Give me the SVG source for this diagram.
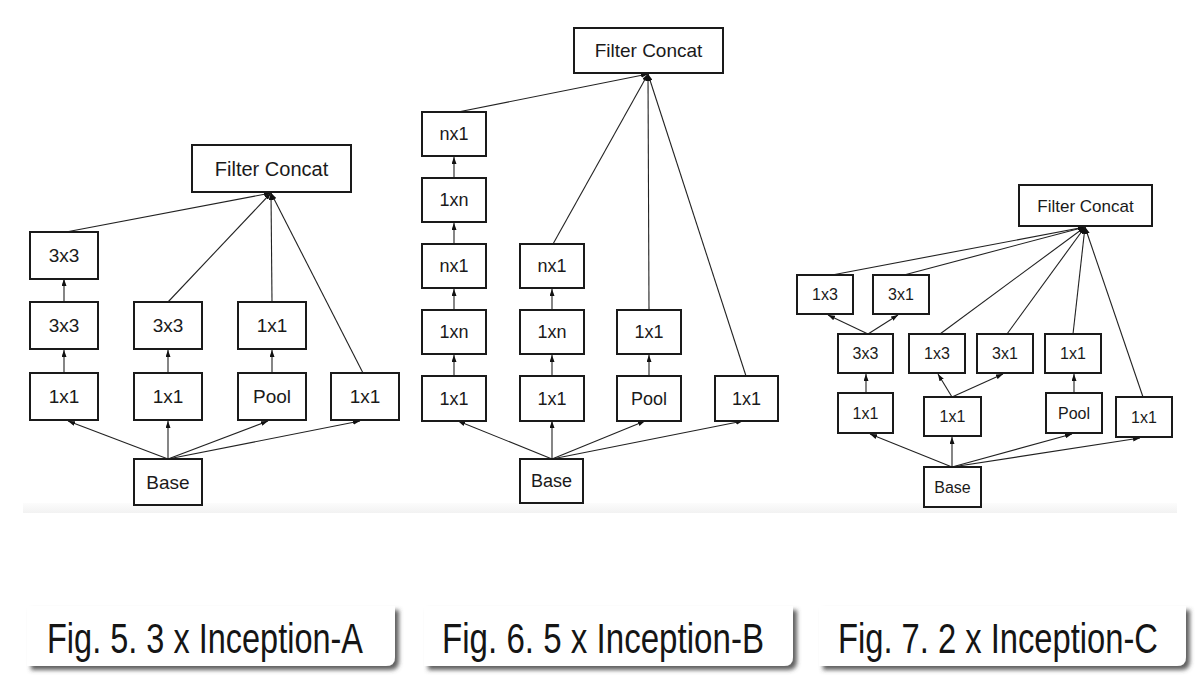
<svg xmlns="http://www.w3.org/2000/svg" width="1196" height="675" viewBox="0 0 1196 675">
<style>
.n rect{fill:#fff;stroke:#1a1a1a;stroke-width:2}
.n text{font-family:"Liberation Sans",Arial,sans-serif;fill:#1a1a1a;text-anchor:middle}
.a text{font-size:19px}
.b text{font-size:18px}
.c text{font-size:16px}
.fa text{font-size:20px}
.fb text{font-size:19px}
.fc text{font-size:17px}
#connectors line{stroke:#222;stroke-width:1.1;fill:none;marker-end:url(#ah)}
.cap text{font-family:"Liberation Sans",Arial,sans-serif;font-size:32px;fill:#151515}
.cap path{fill:#fff;filter:url(#sh)}
</style>
<defs>
<marker id="ah" markerUnits="userSpaceOnUse" markerWidth="7" markerHeight="5" refX="7" refY="2.5" orient="auto">
<path d="M0,0 L7,2.5 L0,5 z" fill="#111"/>
</marker>
<filter id="sh" x="-5%" y="-20%" width="115%" height="150%">
<feDropShadow dx="4" dy="4" stdDeviation="2" flood-color="#444" flood-opacity="0.85"/>
</filter>
<linearGradient id="band" x1="0" y1="0" x2="0" y2="1">
<stop offset="0" stop-color="#fcfcfc"/>
<stop offset="1" stop-color="#f2f2f2"/>
</linearGradient>
</defs>
<rect width="1196" height="675" fill="#fff"/>
<rect x="23" y="503" width="1154" height="10" fill="url(#band)"/>

<g id="connectors">
<!-- Fig A -->
<line x1="66" y1="232" x2="271" y2="193"/>
<line x1="168" y1="302" x2="271" y2="193"/>
<line x1="272" y1="302" x2="271" y2="193"/>
<line x1="363" y1="373" x2="271" y2="193"/>
<line x1="64" y1="302" x2="64" y2="279"/>
<line x1="64" y1="373" x2="64" y2="350"/>
<line x1="168" y1="373" x2="168" y2="350"/>
<line x1="272" y1="373" x2="272" y2="350"/>
<line x1="168" y1="459" x2="68" y2="421"/>
<line x1="168" y1="459" x2="168" y2="421"/>
<line x1="168" y1="459" x2="268" y2="421"/>
<line x1="168" y1="459" x2="360" y2="421"/>
<!-- Fig B -->
<line x1="458" y1="112" x2="648" y2="74"/>
<line x1="553" y1="244" x2="648" y2="74"/>
<line x1="649" y1="310" x2="648" y2="74"/>
<line x1="746" y1="376" x2="648" y2="74"/>
<line x1="454" y1="178" x2="454" y2="157"/>
<line x1="454" y1="244" x2="454" y2="223"/>
<line x1="454" y1="310" x2="454" y2="289"/>
<line x1="454" y1="376" x2="454" y2="355"/>
<line x1="552" y1="310" x2="552" y2="289"/>
<line x1="552" y1="376" x2="552" y2="355"/>
<line x1="649" y1="376" x2="649" y2="355"/>
<line x1="552" y1="459" x2="458" y2="421"/>
<line x1="552" y1="459" x2="552" y2="421"/>
<line x1="552" y1="459" x2="645" y2="421"/>
<line x1="552" y1="459" x2="743" y2="421"/>
<!-- Fig C -->
<line x1="832" y1="275" x2="1085" y2="227"/>
<line x1="904" y1="275" x2="1085" y2="227"/>
<line x1="940" y1="334" x2="1085" y2="227"/>
<line x1="1007" y1="334" x2="1085" y2="227"/>
<line x1="1073" y1="334" x2="1085" y2="227"/>
<line x1="1143" y1="397" x2="1085" y2="227"/>
<line x1="868" y1="334" x2="828" y2="315"/>
<line x1="868" y1="334" x2="898" y2="315"/>
<line x1="866" y1="393" x2="866" y2="374"/>
<line x1="952" y1="397" x2="938" y2="374"/>
<line x1="952" y1="397" x2="1003" y2="374"/>
<line x1="1074" y1="393" x2="1074" y2="374"/>
<line x1="952" y1="467" x2="870" y2="434"/>
<line x1="952" y1="467" x2="952" y2="437"/>
<line x1="952" y1="467" x2="1072" y2="434"/>
<line x1="952" y1="467" x2="1140" y2="438"/>
</g>

<!-- Fig A nodes -->
<g id="a_concat" class="n fa"><rect x="192" y="145" width="159" height="47"/><text x="271.5" y="175.5">Filter Concat</text></g>
<g id="a_3x3_top" class="n a"><rect x="30" y="232" width="68" height="47"/><text x="64" y="262">3x3</text></g>
<g id="a_3x3_1" class="n a"><rect x="30" y="302" width="68" height="47"/><text x="64" y="332">3x3</text></g>
<g id="a_1x1_1" class="n a"><rect x="30" y="373" width="68" height="47"/><text x="64" y="403">1x1</text></g>
<g id="a_3x3_2" class="n a"><rect x="134" y="302" width="68" height="47"/><text x="168" y="332">3x3</text></g>
<g id="a_1x1_2" class="n a"><rect x="134" y="373" width="68" height="47"/><text x="168" y="403">1x1</text></g>
<g id="a_1x1_3" class="n a"><rect x="238" y="302" width="68" height="47"/><text x="272" y="332">1x1</text></g>
<g id="a_pool" class="n a"><rect x="238" y="373" width="68" height="47"/><text x="272" y="403">Pool</text></g>
<g id="a_1x1_4" class="n a"><rect x="331" y="373" width="68" height="47"/><text x="365" y="403">1x1</text></g>
<g id="a_base" class="n a"><rect x="134" y="459" width="68" height="46"/><text x="168" y="489">Base</text></g>

<!-- Fig B nodes -->
<g id="b_concat" class="n fb"><rect x="574" y="28" width="149" height="45"/><text x="648.5" y="57">Filter Concat</text></g>
<g id="b_nx1_top" class="n b"><rect x="422" y="112" width="64" height="44"/><text x="454" y="140">nx1</text></g>
<g id="b_1xn_1" class="n b"><rect x="422" y="178" width="64" height="44"/><text x="454" y="206">1xn</text></g>
<g id="b_nx1_1" class="n b"><rect x="422" y="244" width="64" height="44"/><text x="454" y="272">nx1</text></g>
<g id="b_1xn_2" class="n b"><rect x="422" y="310" width="64" height="44"/><text x="454" y="338">1xn</text></g>
<g id="b_1x1_1" class="n b"><rect x="422" y="376" width="64" height="45"/><text x="454" y="404.5">1x1</text></g>
<g id="b_nx1_2" class="n b"><rect x="520" y="244" width="64" height="44"/><text x="552" y="272">nx1</text></g>
<g id="b_1xn_3" class="n b"><rect x="520" y="310" width="64" height="44"/><text x="552" y="338">1xn</text></g>
<g id="b_1x1_2" class="n b"><rect x="520" y="376" width="64" height="45"/><text x="552" y="404.5">1x1</text></g>
<g id="b_1x1_3" class="n b"><rect x="617" y="310" width="64" height="44"/><text x="649" y="338">1x1</text></g>
<g id="b_pool" class="n b"><rect x="617" y="376" width="64" height="45"/><text x="649" y="404.5">Pool</text></g>
<g id="b_1x1_4" class="n b"><rect x="715" y="376" width="63" height="45"/><text x="746.5" y="404.5">1x1</text></g>
<g id="b_base" class="n b"><rect x="520" y="459" width="63" height="44"/><text x="551.5" y="487">Base</text></g>

<!-- Fig C nodes -->
<g id="c_concat" class="n fc"><rect x="1019" y="185" width="133" height="41"/><text x="1085.5" y="211.5">Filter Concat</text></g>
<g id="c_1x3_top" class="n c"><rect x="797" y="275" width="56" height="39"/><text x="825" y="300">1x3</text></g>
<g id="c_3x1_top" class="n c"><rect x="873" y="275" width="56" height="39"/><text x="901" y="300">3x1</text></g>
<g id="c_3x3" class="n c"><rect x="838" y="334" width="55" height="39"/><text x="865.5" y="359">3x3</text></g>
<g id="c_1x3" class="n c"><rect x="909" y="334" width="56" height="39"/><text x="937" y="359">1x3</text></g>
<g id="c_3x1" class="n c"><rect x="977" y="334" width="56" height="39"/><text x="1005" y="359">3x1</text></g>
<g id="c_1x1_3" class="n c"><rect x="1045" y="334" width="56" height="39"/><text x="1073" y="359">1x1</text></g>
<g id="c_1x1_1" class="n c"><rect x="838" y="393" width="55" height="40"/><text x="865.5" y="418.5">1x1</text></g>
<g id="c_1x1_2" class="n c"><rect x="924" y="397" width="57" height="39"/><text x="952.5" y="422">1x1</text></g>
<g id="c_pool" class="n c"><rect x="1046" y="393" width="56" height="40"/><text x="1074" y="418.5">Pool</text></g>
<g id="c_1x1_4" class="n c"><rect x="1116" y="397" width="56" height="40"/><text x="1144" y="422.5">1x1</text></g>
<g id="c_base" class="n c"><rect x="924" y="467" width="57" height="40"/><text x="952.5" y="492.5">Base</text></g>

<!-- Captions -->
<g id="cap_a" class="cap"><path d="M27,606 H395 V657 Q395,666 386,666 H27 Z"/><text transform="translate(47,653) scale(1,1.3)" textLength="316" lengthAdjust="spacingAndGlyphs">Fig. 5. 3 x Inception-A</text></g>
<g id="cap_b" class="cap"><path d="M424,606 H793 V657 Q793,666 784,666 H424 Z"/><text transform="translate(442,653) scale(1,1.3)" textLength="322" lengthAdjust="spacingAndGlyphs">Fig. 6. 5 x Inception-B</text></g>
<g id="cap_c" class="cap"><path d="M819,606 H1186 V657 Q1186,666 1177,666 H819 Z"/><text transform="translate(838,653) scale(1,1.3)" textLength="320" lengthAdjust="spacingAndGlyphs">Fig. 7. 2 x Inception-C</text></g>
</svg>
